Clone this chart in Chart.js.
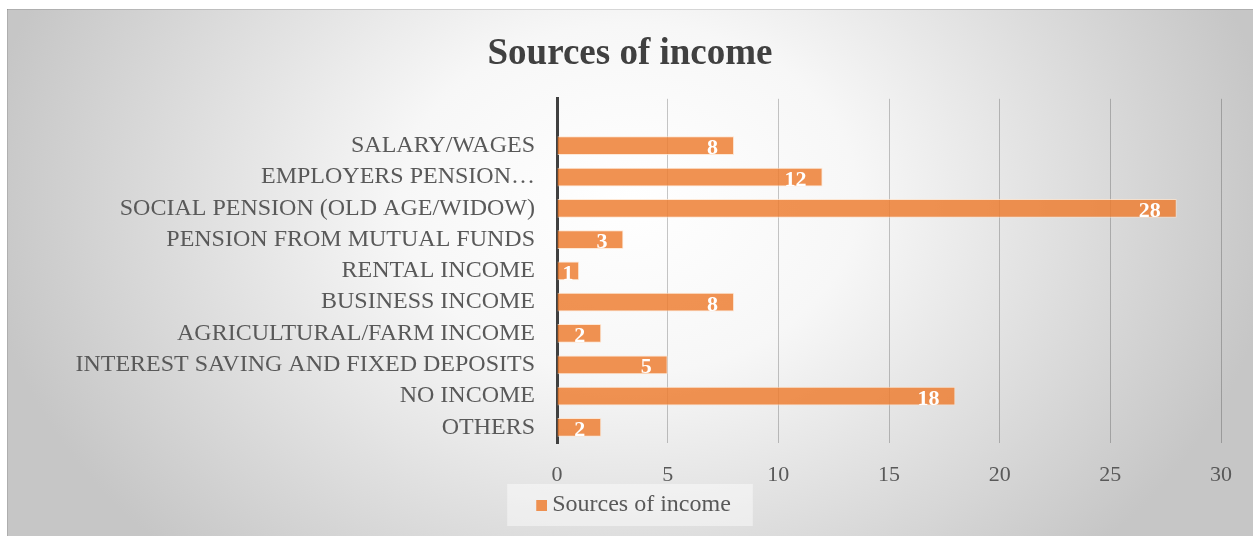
<!DOCTYPE html>
<html>
<head>
<meta charset="utf-8">
<title>Sources of income</title>
<script src="https://cdn.jsdelivr.net/npm/chart.js@4.4.1/dist/chart.umd.min.js"></script>
<style>
    html, body { margin: 0; padding: 0; background: #ffffff; }
    #wrap { position: absolute; left: 7px; top: 9px; width: 1246px; height: 527px; }
</style>
</head>
<body>
<div id="wrap"><canvas id="incomeChart"></canvas></div>
<script>
// 카테고리 (맨 위 빈 칸 하나 포함)
const categories = [
    '',
    'SALARY/WAGES',
    'EMPLOYERS PENSION\u2026',
    'SOCIAL PENSION (OLD AGE/WIDOW)',
    'PENSION FROM MUTUAL FUNDS',
    'RENTAL INCOME',
    'BUSINESS INCOME',
    'AGRICULTURAL/FARM INCOME',
    'INTEREST SAVING AND FIXED DEPOSITS',
    'NO INCOME',
    'OTHERS'
];
const incomeCounts = [null, 8, 12, 28, 3, 1, 8, 2, 5, 18, 2];
const xTicks = [0, 5, 10, 15, 20, 25, 30];

const SERIF = '"Liberation Serif", "Times New Roman", serif';
const BAR_FILL = 'rgba(237, 125, 49, 0.84)';

// 범례 마커: 오른쪽에 붙은 작은 사각형 (글자와 간격 좁히기)
const legendMarker = document.createElement('canvas');
legendMarker.width = 25;
legendMarker.height = 11;
(() => {
    const c = legendMarker.getContext('2d');
    c.fillStyle = BAR_FILL;
    c.fillRect(14, 0, 11, 11);
})();

// 배경: 가운데 흰색, 가장자리 회색 방사형 그라데이션
const backdropPlugin = {
    id: 'backdrop',
    beforeDraw(chart) {
        const { ctx, width, height } = chart;
        const k = 500 / 650;
        ctx.save();
        ctx.scale(1, k);
        const g = ctx.createRadialGradient(623, 190 / k, 0, 623, 190 / k, 650);
        g.addColorStop(0, '#ffffff');
        g.addColorStop(0.35, '#f7f7f7');
        g.addColorStop(1, '#c6c6c6');
        ctx.fillStyle = g;
        ctx.fillRect(0, 0, width, height / k);
        ctx.restore();

        ctx.save();
        ctx.fillStyle = 'rgba(0,0,0,0.12)';
        ctx.fillRect(0, 0, width, 1);
        ctx.fillRect(0, 0, 1, height);

        // 범례 뒤 옅은 박스
        const lg = chart.legend;
        if (lg && lg.legendHitBoxes && lg.legendHitBoxes.length) {
            const hb = lg.legendHitBoxes[0];
            const cy = hb.top + hb.height / 2;
            ctx.fillStyle = 'rgba(255,255,255,0.45)';
            ctx.fillRect(hb.left - 22, cy - 21, hb.width + 44, 42);
        }
        ctx.restore();
    }
};

// 막대 안쪽 끝에 값 표시
const valueLabelPlugin = {
    id: 'valueLabels',
    afterDatasetsDraw(chart) {
        const { ctx } = chart;
        const meta = chart.getDatasetMeta(0);
        ctx.save();
        ctx.font = 'bold 22px ' + SERIF;
        ctx.fillStyle = '#ffffff';
        ctx.textAlign = 'right';
        ctx.textBaseline = 'middle';
        meta.data.forEach((bar, i) => {
            const v = incomeCounts[i];
            if (v === null) return;
            const text = String(v);
            const w = ctx.measureText(text).width;
            const xr = Math.max(bar.x - 16, bar.base + 5 + w);
            ctx.fillText(text, xr, bar.y + 3);
        });
        ctx.restore();
    }
};

new Chart(document.getElementById('incomeChart'), {
    type: 'bar',
    data: {
        labels: categories,
        datasets: [{
            label: 'Sources of income',
            data: incomeCounts,
            backgroundColor: BAR_FILL,
            borderColor: 'rgba(255, 225, 200, 0.75)',
            borderWidth: 1,
            categoryPercentage: 0.63,
            barPercentage: 0.95,
            pointStyle: legendMarker
        }]
    },
    options: {
        indexAxis: 'y',
        responsive: true,
        maintainAspectRatio: false,
        animation: false,
        layout: { padding: { left: 0, right: 0, top: 0, bottom: 9 } },
        scales: {
            x: {
                type: 'linear',
                min: 0,
                max: 30,
                afterBuildTicks: scale => {
                    scale.ticks = xTicks.map(v => ({ value: v }));
                },
                afterFit: scale => { scale.height = 41; },
                grid: {
                    color: 'rgba(0,0,0,0.22)',
                    lineWidth: 1,
                    drawTicks: false
                },
                border: { display: false },
                ticks: {
                    padding: 19,
                    color: '#595959',
                    font: { family: SERIF, size: 22 }
                }
            },
            y: {
                afterFit: scale => { scale.width = 550; },
                grid: { display: false, drawTicks: false },
                border: { display: true, color: '#404040', width: 3 },
                ticks: {
                    padding: 22,
                    autoSkip: false,
                    color: '#595959',
                    font: { family: SERIF, size: 24 }
                }
            },
            // 오른쪽 여백용 빈 축
            yRight: {
                type: 'category',
                position: 'right',
                afterFit: scale => { scale.width = 32; },
                grid: { display: false, drawTicks: false },
                border: { display: false },
                ticks: { display: false }
            }
        },
        plugins: {
            title: {
                display: true,
                text: 'Sources of income',
                color: '#404040',
                font: { family: SERIF, size: 37, weight: 'bold' },
                padding: { top: 23, bottom: 22.4 }
            },
            legend: {
                position: 'bottom',
                labels: {
                    usePointStyle: true,
                    boxWidth: 11,
                    boxHeight: 11,
                    padding: 9,
                    color: '#595959',
                    font: { family: SERIF, size: 24 }
                }
            },
            tooltip: { enabled: false }
        }
    },
    plugins: [backdropPlugin, valueLabelPlugin]
});
</script>
</body>
</html>
